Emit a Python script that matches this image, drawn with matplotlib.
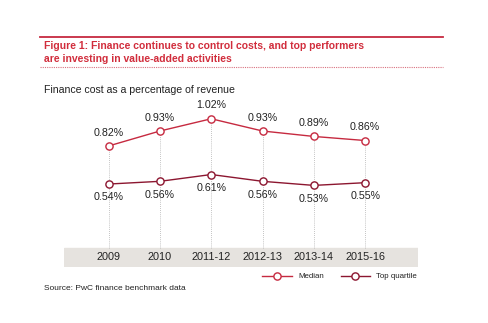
import matplotlib
matplotlib.use("Agg")
import matplotlib.pyplot as plt
from matplotlib.lines import Line2D

plt.rcParams['font.family'] = ['Liberation Sans', 'DejaVu Sans']

categories = ["2009", "2010", "2011-12", "2012-13", "2013-14", "2015-16"]
median = [0.82, 0.93, 1.02, 0.93, 0.89, 0.86]
top_quartile = [0.54, 0.56, 0.61, 0.56, 0.53, 0.55]

RED = "#c62a40"
DARK = "#8c1630"
TITLE_RED = "#d12d3c"
W, H = 488, 323
fig = plt.figure(figsize=(W / 100, H / 100), dpi=100)

def fx(px):
    return px / W

def fy(py):
    return 1 - py / H

# header lines
fig.add_artist(Line2D([fx(40), fx(443)], [fy(36.5), fy(36.5)], color=RED, lw=1.3))
fig.add_artist(Line2D([fx(40), fx(443)], [fy(66.5), fy(66.5)], color="#d9707e", lw=0.8,
                      ls=(0, (1, 1))))
fig.text(fx(44), fy(46), "Figure 1: Finance continues to control costs, and top performers",
         color=TITLE_RED, fontsize=7.45, fontweight='bold', va='center', ha='left')
fig.text(fx(44), fy(59), "are investing in value-added activities",
         color=TITLE_RED, fontsize=7.45, fontweight='bold', va='center', ha='left')
fig.text(fx(44), fy(90), "Finance cost as a percentage of revenue",
         color="#222222", fontsize=7.55, va='center', ha='left')

# main axes
x0, x1 = 64, 418
ytop, ybot = 100, 267
ax = fig.add_axes([fx(x0), fy(ybot), (x1 - x0) / W, (ybot - ytop) / H])
ax.set_xlim(-0.87, 6.03)
ax.set_ylim(-0.07, 1.158)
ax.axis('off')

xs = list(range(len(categories)))
ax.axhspan(-0.07, 0.07, color="#e6e3df", zorder=0)
for i, c in enumerate(categories):
    ax.text(i, 0.0, c, ha='center', va='center', fontsize=7.8, color="#222222")
    ax.plot([i, i], [0.07, median[i]], color="#b0b0b0", lw=0.6, ls=(0, (1, 1.5)), zorder=1)

ax.plot(xs, median, color=RED, lw=1.0, marker='o', ms=5.2, mfc='white',
        mec=RED, mew=1.0, zorder=3)
ax.plot(xs, top_quartile, color=DARK, lw=1.0, marker='o', ms=5.2, mfc='white',
        mec=DARK, mew=1.0, zorder=3)

for i, v in enumerate(median):
    ax.annotate(f"{v:.2f}%", (i, v), xytext=(0, 6), textcoords='offset points',
                ha='center', va='bottom', fontsize=7.7, color="#222222")
for i, v in enumerate(top_quartile):
    ax.annotate(f"{v:.2f}%", (i, v), xytext=(0, -6), textcoords='offset points',
                ha='center', va='top', fontsize=7.7, color="#222222")

# legend
ly = fy(276)
fig.add_artist(Line2D([fx(262), fx(292)], [ly, ly], color=RED, lw=1.0))
fig.add_artist(Line2D([fx(277)], [ly], marker='o', ms=5.2, mfc='white', mec=RED, mew=1.0))
fig.text(fx(298), ly, "Median", fontsize=5.7, va='center', ha='left', color="#222222")
fig.add_artist(Line2D([fx(341), fx(370)], [ly, ly], color=DARK, lw=1.0))
fig.add_artist(Line2D([fx(355)], [ly], marker='o', ms=5.2, mfc='white', mec=DARK, mew=1.0))
fig.text(fx(376), ly, "Top quartile", fontsize=5.7, va='center', ha='left', color="#222222")

fig.text(fx(44), fy(288), "Source: PwC finance benchmark data", fontsize=6.0,
         va='center', ha='left', color="#222222")

fig.savefig("out.png", dpi=100)
